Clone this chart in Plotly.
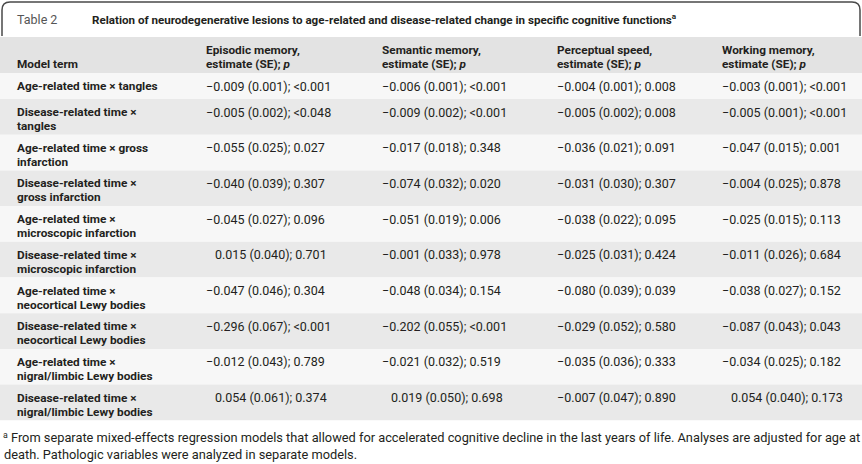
import plotly.graph_objects as go

table_no = "Table 2"
title = "Relation of neurodegenerative lesions to age-related and disease-related change in specific cognitive functions"
col_heads = ["Model term",
             "Episodic memory,\nestimate (SE); <i>p</i>",
             "Semantic memory,\nestimate (SE); <i>p</i>",
             "Perceptual speed,\nestimate (SE); <i>p</i>",
             "Working memory,\nestimate (SE); <i>p</i>"]
terms = ["Age-related time × tangles",
         "Disease-related time ×\ntangles",
         "Age-related time × gross\ninfarction",
         "Disease-related time ×\ngross infarction",
         "Age-related time ×\nmicroscopic infarction",
         "Disease-related time ×\nmicroscopic infarction",
         "Age-related time ×\nneocortical Lewy bodies",
         "Disease-related time ×\nneocortical Lewy bodies",
         "Age-related time ×\nnigral/limbic Lewy bodies",
         "Disease-related time ×\nnigral/limbic Lewy bodies"]
episodic = ["−0.009 (0.001); <0.001", "−0.005 (0.002); <0.048", "−0.055 (0.025); 0.027",
            "−0.040 (0.039); 0.307", "−0.045 (0.027); 0.096", "0.015 (0.040); 0.701",
            "−0.047 (0.046); 0.304", "−0.296 (0.067); <0.001", "−0.012 (0.043); 0.789",
            "0.054 (0.061); 0.374"]
semantic = ["−0.006 (0.001); <0.001", "−0.009 (0.002); <0.001", "−0.017 (0.018); 0.348",
            "−0.074 (0.032); 0.020", "−0.051 (0.019); 0.006", "−0.001 (0.033); 0.978",
            "−0.048 (0.034); 0.154", "−0.202 (0.055); <0.001", "−0.021 (0.032); 0.519",
            "0.019 (0.050); 0.698"]
perceptual = ["−0.004 (0.001); 0.008", "−0.005 (0.002); 0.008", "−0.036 (0.021); 0.091",
              "−0.031 (0.030); 0.307", "−0.038 (0.022); 0.095", "−0.025 (0.031); 0.424",
              "−0.080 (0.039); 0.039", "−0.029 (0.052); 0.580", "−0.035 (0.036); 0.333",
              "−0.007 (0.047); 0.890"]
working = ["−0.003 (0.001); <0.001", "−0.005 (0.001); <0.001", "−0.047 (0.015); 0.001",
           "−0.004 (0.025); 0.878", "−0.025 (0.015); 0.113", "−0.011 (0.026); 0.684",
           "−0.038 (0.027); 0.152", "−0.087 (0.043); 0.043", "−0.034 (0.025); 0.182",
           "0.054 (0.040); 0.173"]
footnote = ["From separate mixed-effects regression models that allowed for accelerated cognitive decline in the last years of life. Analyses are adjusted for age at",
            "death. Pathologic variables were analyzed in separate models."]

W, H = 862, 464
FONT = "Roboto"
TXT = "#231f20"
col_x = [15, 204, 380, 555, 720]
minus_w = 9

fig = go.Figure()
fig.update_xaxes(range=[0, W], visible=False, fixedrange=True)
fig.update_yaxes(range=[H, 0], visible=False, fixedrange=True)

shapes = []
ann = []

def txt(x, y, s, size=11.5, bold=False, color=TXT, anchor="left"):
    s = s.replace("<0", "&lt;0")
    if bold:
        s = "<b>" + s + "</b>"
    ann.append(dict(x=x, y=y, text=s, showarrow=False, xanchor=anchor, yanchor="middle",
                    font=dict(family=FONT, size=size, color=color)))

# title box
shapes.append(dict(type="path", path="M 2,36 L 2,10 Q 2,2 10,2 L 852,2 Q 860,2 860,10 L 860,36",
                   line=dict(color="#4a4a4a", width=1.5)))
txt(15, 19, table_no, size=12.5, color="#555555")
txt(90, 19, title + "<sup>a</sup>", size=11.6, bold=True)

# header band
shapes.append(dict(type="rect", x0=0, x1=W, y0=37, y1=73, fillcolor="#e3e3e3", line_width=0, layer="below"))
for j, h in enumerate(col_heads):
    lines = h.split("\n")
    for k, ln in enumerate(lines):
        y = 64 - 14 * (len(lines) - 1 - k)
        txt(col_x[j], y, ln, size=11.8, bold=True)

# body rows
cols = [episodic, semantic, perceptual, working]
top = 73
for i, term in enumerate(terms):
    lines = term.split("\n")
    h = 26 if len(lines) == 1 else 35.7
    fill = "#f7f7f7" if i % 2 == 0 else "#e9e9e9"
    shapes.append(dict(type="rect", x0=0, x1=W, y0=top, y1=top + h, fillcolor=fill, line_width=0, layer="below"))
    for k, ln in enumerate(lines):
        txt(col_x[0], top + 13 + 14 * k, ln, size=11.8, bold=True)
    for j, vals in enumerate(cols):
        v = vals[i]
        x = col_x[j + 1] + (0 if v.startswith("−") else minus_w)
        txt(x, top + 13, v, size=12.5)
    top += h

# footnote
txt(1, 435, "<sup>a</sup>", size=12.5)
txt(9, 437, footnote[0], size=12.8)
txt(2, 454, footnote[1], size=12.8)

fig.update_layout(width=W, height=H, margin=dict(l=0, r=0, t=0, b=0),
                  plot_bgcolor="white", paper_bgcolor="white",
                  shapes=shapes, annotations=ann, showlegend=False)
fig.write_html("out.html", config={"displayModeBar": False},
               post_script="document.body.style.margin='0';document.body.style.overflow='hidden';")
